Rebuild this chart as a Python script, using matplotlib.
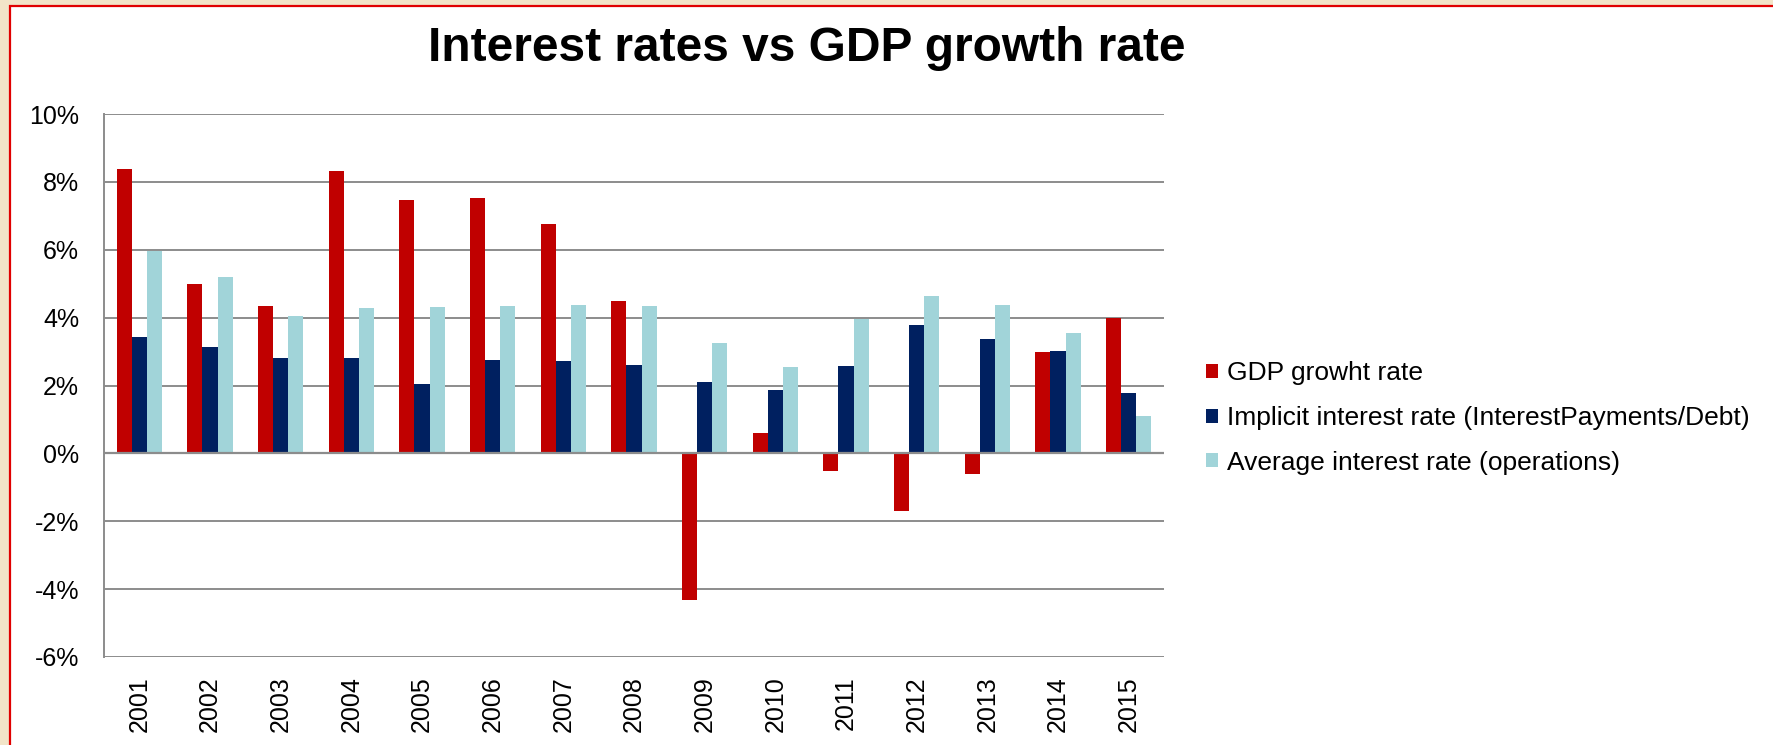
import numpy as np
import matplotlib as mpl
mpl.use('Agg')
import matplotlib.pyplot as plt
from matplotlib.patches import Rectangle

mpl.rcParams['font.family'] = ['Liberation Sans', 'DejaVu Sans']

years = ['2001', '2002', '2003', '2004', '2005', '2006', '2007', '2008',
         '2009', '2010', '2011', '2012', '2013', '2014', '2015']
gdp_growth = [8.37, 4.99, 4.33, 8.31, 7.48, 7.53, 6.77, 4.50,
              -4.31, 0.60, -0.53, -1.69, -0.61, 2.98, 4.00]
implicit_rate = [3.43, 3.13, 2.82, 2.82, 2.03, 2.74, 2.72, 2.61,
                 2.11, 1.86, 2.57, 3.78, 3.38, 3.02, 1.78]
average_rate = [5.95, 5.20, 4.06, 4.29, 4.32, 4.35, 4.36, 4.33,
                3.25, 2.55, 3.95, 4.65, 4.38, 3.55, 1.09]

series = [
    (gdp_growth, 'GDP growht rate', '#C00000'),
    (implicit_rate, 'Implicit interest rate (InterestPayments/Debt)', '#002060'),
    (average_rate, 'Average interest rate (operations)', '#A1D4D9'),
]

W, H = 1773, 745
fig = plt.figure(figsize=(W / 100, H / 100), dpi=100)
fig.patch.set_facecolor('#F2E4C8')

# white slide panel with red outline (runs off the right and bottom edges)
panel = Rectangle((10 / W, -0.05), 1.2, 1.05 - 6 / H, transform=fig.transFigure,
                  facecolor='white', edgecolor='#E00000', linewidth=1.6,
                  zorder=-5)
fig.add_artist(panel)

ax = fig.add_axes([104 / W, 1 - 657 / H, (1164 - 104) / W, (657 - 114) / H])
ax.set_zorder(2)
ax.set_facecolor('white')

x = np.arange(len(years))
bw = 0.215
for i, (vals, label, color) in enumerate(series):
    ax.bar(x + (i - 1) * bw, vals, width=bw, color=color, label=label,
           edgecolor='none', zorder=3)

ax.set_xlim(-0.5, len(years) - 0.5)
ax.set_ylim(-6, 10)
ax.set_yticks(np.arange(-6, 11, 2))
ax.set_yticklabels(['%d%%' % v for v in np.arange(-6, 11, 2)])
ax.set_xticks(x)
ax.set_xticklabels(years, rotation=90)

ax.grid(axis='y', color='#8C8C8C', linewidth=1.4, zorder=1)
ax.axhline(0, color='#8C8C8C', linewidth=1.6, zorder=4)
for s in ['right', 'top', 'bottom']:
    ax.spines[s].set_visible(False)
ax.spines['left'].set_color('#8C8C8C')
ax.spines['left'].set_linewidth(1.4)
ax.tick_params(axis='y', length=0, pad=18, labelsize=18)
ax.tick_params(axis='x', length=0, pad=14, labelsize=18)

fig.text(807 / W, 1 - 61 / H, 'Interest rates vs GDP growth rate',
         ha='center', va='baseline', fontsize=34.5, fontweight='bold')

fig.legend(loc='center left', bbox_to_anchor=(1193 / W, 1 - 418 / H),
           frameon=False, fontsize=19, handlelength=0.45, handleheight=0.45,
           handletextpad=0.33, labelspacing=0.78, borderpad=0)

fig.savefig('out.png', dpi=100, facecolor=fig.get_facecolor())
